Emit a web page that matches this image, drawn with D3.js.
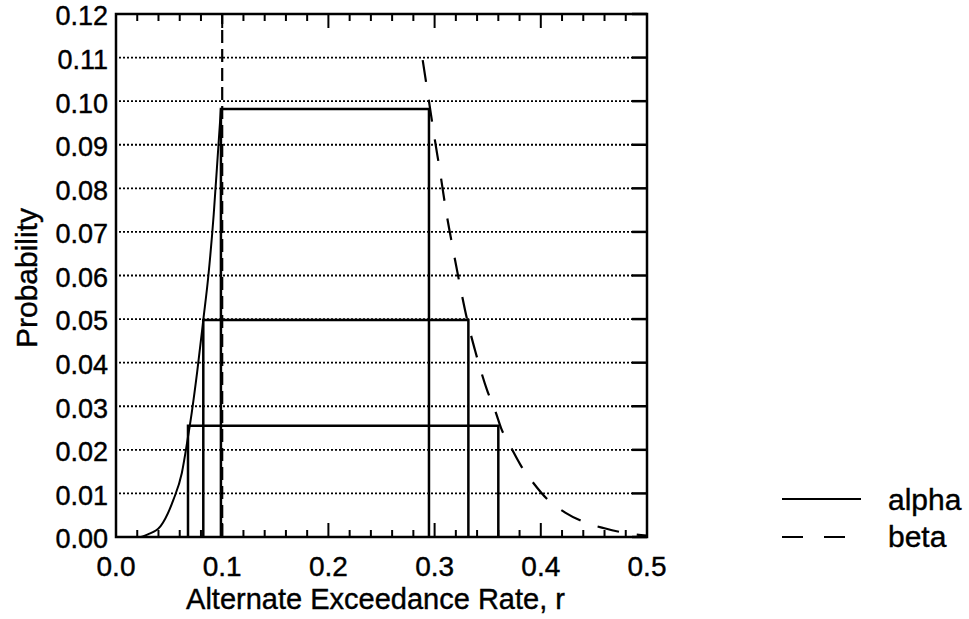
<!DOCTYPE html>
<html>
<head>
<meta charset="utf-8">
<script src="https://cdn.jsdelivr.net/npm/d3@7"></script>
<style>
  body { margin: 0; background: #fff; }
  text { font-family: "Liberation Sans", Arial, sans-serif; fill: #000; stroke: #000; stroke-width: 0.4px; }
</style>
</head>
<body>
<div id="chart"></div>
<script>
// alpha curve (solid)
var alphaX = [0.0, 0.022, 0.03, 0.042, 0.054, 0.062, 0.0675, 0.0713, 0.0765, 0.0822, 0.087, 0.092, 0.0965, 0.0988];
var alphaY = [0.0, 0.0, 0.0006, 0.0025, 0.0085, 0.0147, 0.0225, 0.0285, 0.038, 0.0498, 0.060, 0.074, 0.090, 0.0982];

// beta curve (dashed)
var betaX = [0.2888, 0.295, 0.300, 0.305, 0.311, 0.317, 0.3245, 0.331, 0.338, 0.344, 0.3494, 0.357, 0.3626, 0.3727, 0.381, 0.393, 0.406, 0.423, 0.44, 0.46, 0.48, 0.5];
var betaY = [0.1094, 0.0995, 0.0915, 0.084, 0.0745, 0.0665, 0.057, 0.0495, 0.0429, 0.0378, 0.0337, 0.029, 0.025, 0.0202, 0.0165, 0.0124, 0.0087, 0.0056, 0.0035, 0.002, 0.0009, 0.0003];

// interval boxes: probability level, left and right rate
var boxLevel = [0.0982, 0.0498, 0.0255];
var boxLeft = [0.0988, 0.0822, 0.0678];
var boxRight = [0.2947, 0.3318, 0.360];

var refRate = 0.1;

var xTicks = [0.0, 0.1, 0.2, 0.3, 0.4, 0.5];
var yTicks = [0.00, 0.01, 0.02, 0.03, 0.04, 0.05, 0.06, 0.07, 0.08, 0.09, 0.10, 0.11, 0.12];
var legendNames = ["alpha", "beta"];

var width = 969, height = 619;
var pLeft = 116, pRight = 647, pTop = 14, pBottom = 537;

var svg = d3.select("#chart").append("svg")
  .attr("width", width)
  .attr("height", height)
  .style("background", "#fff");

var x = d3.scaleLinear().domain([0, 0.5]).range([pLeft, pRight]);
var y = d3.scaleLinear().domain([0, 0.12]).range([pBottom, pTop]);

// dotted grid lines
svg.selectAll("line.grid")
  .data(yTicks.slice(1, -1))
  .enter().append("line")
  .attr("class", "grid")
  .attr("x1", pLeft + 3).attr("x2", pRight - 14)
  .attr("y1", function(d) { return y(d); })
  .attr("y2", function(d) { return y(d); })
  .attr("stroke", "#000")
  .attr("stroke-width", 1.8)
  .attr("stroke-dasharray", "2,2");

// right side ticks
svg.selectAll("line.rtick")
  .data(yTicks)
  .enter().append("line")
  .attr("x1", pRight - 15).attr("x2", pRight)
  .attr("y1", function(d) { return y(d); })
  .attr("y2", function(d) { return y(d); })
  .attr("stroke", "#000")
  .attr("stroke-width", 2.5);

// top and bottom ticks (minor every 0.02)
var xt = d3.range(0, 51, 2).map(function(i) { return i / 100; });
xt.forEach(function(d) {
  var major = Math.abs(Math.round(d * 10) - d * 10) < 1e-6;
  var len = major ? 14 : 7;
  svg.append("line")
    .attr("x1", x(d)).attr("x2", x(d))
    .attr("y1", pTop).attr("y2", pTop + len)
    .attr("stroke", "#000").attr("stroke-width", 2);
  svg.append("line")
    .attr("x1", x(d)).attr("x2", x(d))
    .attr("y1", pBottom).attr("y2", pBottom - len)
    .attr("stroke", "#000").attr("stroke-width", 2);
});

// dashed reference line at r = 0.1
svg.append("line")
  .attr("x1", x(refRate)).attr("x2", x(refRate))
  .attr("y1", y(0)).attr("y2", y(0.12))
  .attr("stroke", "#000")
  .attr("stroke-width", 2.2)
  .attr("stroke-dasharray", "13,6");

// boxes
boxLevel.forEach(function(lv, i) {
  var p = d3.path();
  p.moveTo(x(boxLeft[i]), y(0));
  p.lineTo(x(boxLeft[i]), y(lv));
  p.lineTo(x(boxRight[i]), y(lv));
  p.lineTo(x(boxRight[i]), y(0));
  svg.append("path")
    .attr("d", p.toString())
    .attr("fill", "none")
    .attr("stroke", "#000")
    .attr("stroke-width", 2.5);
});

var line = d3.line()
  .curve(d3.curveMonotoneX)
  .x(function(d) { return x(d[0]); })
  .y(function(d) { return y(d[1]); });

svg.append("path")
  .datum(d3.zip(alphaX, alphaY))
  .attr("d", line)
  .attr("fill", "none")
  .attr("stroke", "#000")
  .attr("stroke-width", 2);

svg.append("path")
  .datum(d3.zip(betaX, betaY))
  .attr("d", line)
  .attr("fill", "none")
  .attr("stroke", "#000")
  .attr("stroke-width", 2.2)
  .attr("stroke-dasharray", "22,18");

// frame
svg.append("rect")
  .attr("x", pLeft).attr("y", pTop)
  .attr("width", pRight - pLeft).attr("height", pBottom - pTop)
  .attr("fill", "none")
  .attr("stroke", "#000")
  .attr("stroke-width", 2.5);

// tick labels
svg.selectAll("text.ylab")
  .data(yTicks)
  .enter().append("text")
  .attr("x", pLeft - 8)
  .attr("y", function(d) { return y(d); })
  .attr("dy", "0.42em")
  .attr("text-anchor", "end")
  .style("font-size", "27px")
  .text(function(d) { return d3.format(".2f")(d); });

svg.selectAll("text.xlab")
  .data(xTicks)
  .enter().append("text")
  .attr("x", function(d) { return x(d); })
  .attr("y", 576)
  .attr("text-anchor", "middle")
  .style("font-size", "28px")
  .text(function(d) { return d3.format(".1f")(d); });

// axis titles
svg.append("text")
  .attr("x", (pLeft + pRight) / 2 - 6)
  .attr("y", 609)
  .attr("text-anchor", "middle")
  .style("font-size", "29px")
  .text("Alternate Exceedance Rate, r");

svg.append("text")
  .attr("transform", "translate(37,278) rotate(-90)")
  .attr("text-anchor", "middle")
  .style("font-size", "30px")
  .text("Probability");

// legend
var legY = [499, 537];
var legBase = [510, 547];
legendNames.forEach(function(name, i) {
  svg.append("line")
    .attr("x1", 782).attr("x2", 861)
    .attr("y1", legY[i]).attr("y2", legY[i])
    .attr("stroke", "#000")
    .attr("stroke-width", 2)
    .attr("stroke-dasharray", i === 1 ? "21,21" : null);
  svg.append("text")
    .attr("x", 888)
    .attr("y", legBase[i])
    .style("font-size", "30px")
    .text(name);
});
</script>
</body>
</html>
